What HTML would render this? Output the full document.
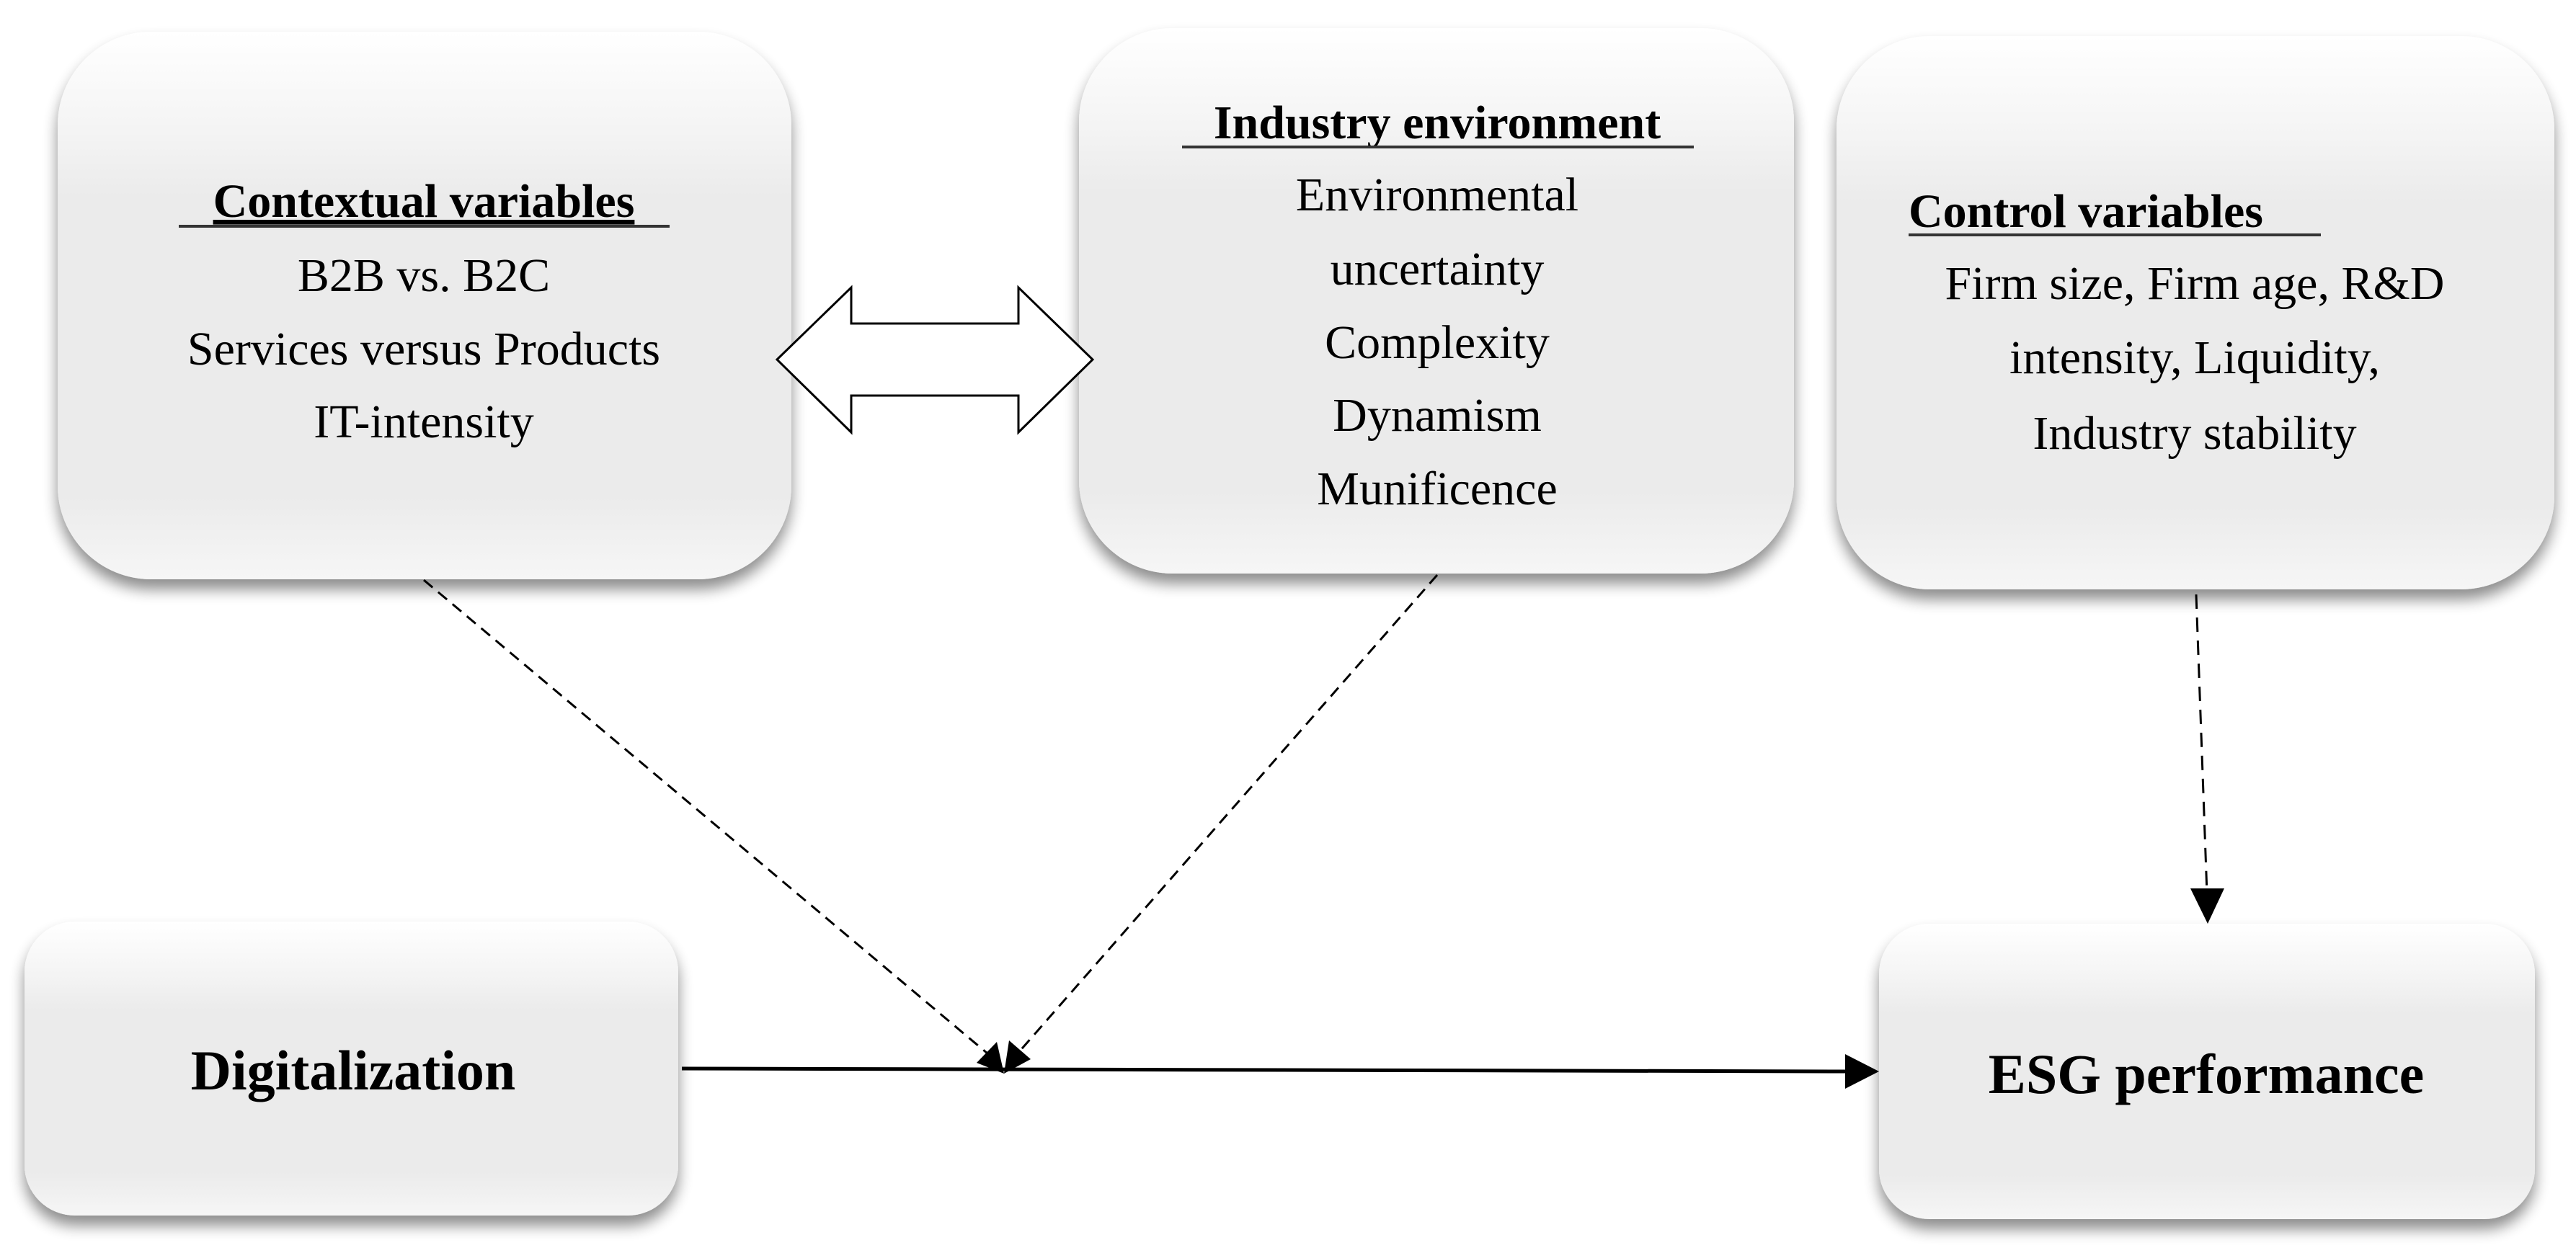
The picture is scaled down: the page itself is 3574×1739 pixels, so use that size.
<!DOCTYPE html>
<html><head><meta charset="utf-8"><style>
html,body{margin:0;padding:0;background:#fff}
svg{display:block}
text{font-family:"Liberation Serif",serif;fill:#000}
</style></head><body>
<svg width="3574" height="1739" viewBox="0 0 3574 1739" xmlns="http://www.w3.org/2000/svg">
<defs>
<linearGradient id="g" x1="0" y1="0" x2="0" y2="1">
<stop offset="0" stop-color="#ffffff"/><stop offset="0.18" stop-color="#f4f4f4"/><stop offset="0.3" stop-color="#ebebeb"/><stop offset="0.85" stop-color="#ebebeb"/><stop offset="1" stop-color="#f6f6f6"/>
</linearGradient>
<filter id="s" x="-10%" y="-10%" width="120%" height="125%">
<feGaussianBlur in="SourceAlpha" stdDeviation="10"/><feOffset dx="0" dy="14"/>
<feComponentTransfer><feFuncA type="linear" slope="0.45"/></feComponentTransfer>
<feMerge><feMergeNode/><feMergeNode in="SourceGraphic"/></feMerge>
</filter>
<marker id="ah" markerWidth="10" markerHeight="10" refX="10" refY="5" orient="auto" markerUnits="userSpaceOnUse" viewBox="0 0 10 10"></marker>
</defs>
<g filter="url(#s)">
<rect x="80" y="44" width="1018" height="760" rx="130" fill="url(#g)"/>
<rect x="1497" y="39" width="992" height="757" rx="130" fill="url(#g)"/>
<rect x="2548" y="50" width="996" height="768" rx="130" fill="url(#g)"/>
<rect x="34" y="1279" width="907" height="408" rx="70" fill="url(#g)"/>
<rect x="2607" y="1282" width="910" height="410" rx="70" fill="url(#g)"/>
</g>
<!-- double arrow -->
<polygon points="1078,499 1181,399 1181,449 1413,449 1413,399 1516,499 1413,600 1413,549 1181,549 1181,600" fill="#fff" stroke="#000" stroke-width="3"/>
<!-- dashed lines -->
<line x1="588" y1="805" x2="1370" y2="1462" stroke="#000" stroke-width="3" stroke-dasharray="16,10"/>
<line x1="1994" y1="798" x2="1412" y2="1462" stroke="#000" stroke-width="3" stroke-dasharray="16,10"/>
<polygon points="1393,1490 1355,1475 1383,1446" fill="#000"/>
<polygon points="1393,1490 1400,1444 1430,1470" fill="#000"/>
<line x1="3047" y1="825" x2="3062" y2="1240" stroke="#000" stroke-width="3" stroke-dasharray="20,12"/>
<polygon points="3039,1233 3086,1233 3063,1282" fill="#000"/>
<!-- main line -->
<line x1="946" y1="1483" x2="2565" y2="1487" stroke="#000" stroke-width="5"/>
<polygon points="2560,1463 2607,1487 2560,1511" fill="#000"/>
<!-- texts -->
<g font-size="66" text-anchor="middle">
<text x="588" y="301" font-weight="bold" text-decoration="underline">Contextual variables</text>
<line x1="248" y1="314" x2="929" y2="314" stroke="#333" stroke-width="4"/>
<text x="588" y="404">B2B vs. B2C</text>
<text x="588" y="506">Services versus Products</text>
<text x="588" y="607">IT-intensity</text>
<text x="1994" y="192" font-weight="bold">Industry environment</text>
<line x1="1640" y1="204" x2="2350" y2="204" stroke="#333" stroke-width="4"/>
<text x="1994" y="292">Environmental</text>
<text x="1994" y="395">uncertainty</text>
<text x="1994" y="497">Complexity</text>
<text x="1994" y="598">Dynamism</text>
<text x="1994" y="700">Munificence</text>
<text x="3045" y="415">Firm size, Firm age, R&amp;D</text>
<text x="3045" y="518">intensity, Liquidity,</text>
<text x="3045" y="623">Industry stability</text>
</g>
<text x="2648" y="315" font-size="66" font-weight="bold">Control variables</text>
<line x1="2648" y1="326" x2="3220" y2="326" stroke="#333" stroke-width="4"/>
<text x="490" y="1512" font-size="78" font-weight="bold" text-anchor="middle">Digitalization</text>
<text x="3061" y="1517" font-size="78" font-weight="bold" text-anchor="middle">ESG performance</text>
</svg>
</body></html>
